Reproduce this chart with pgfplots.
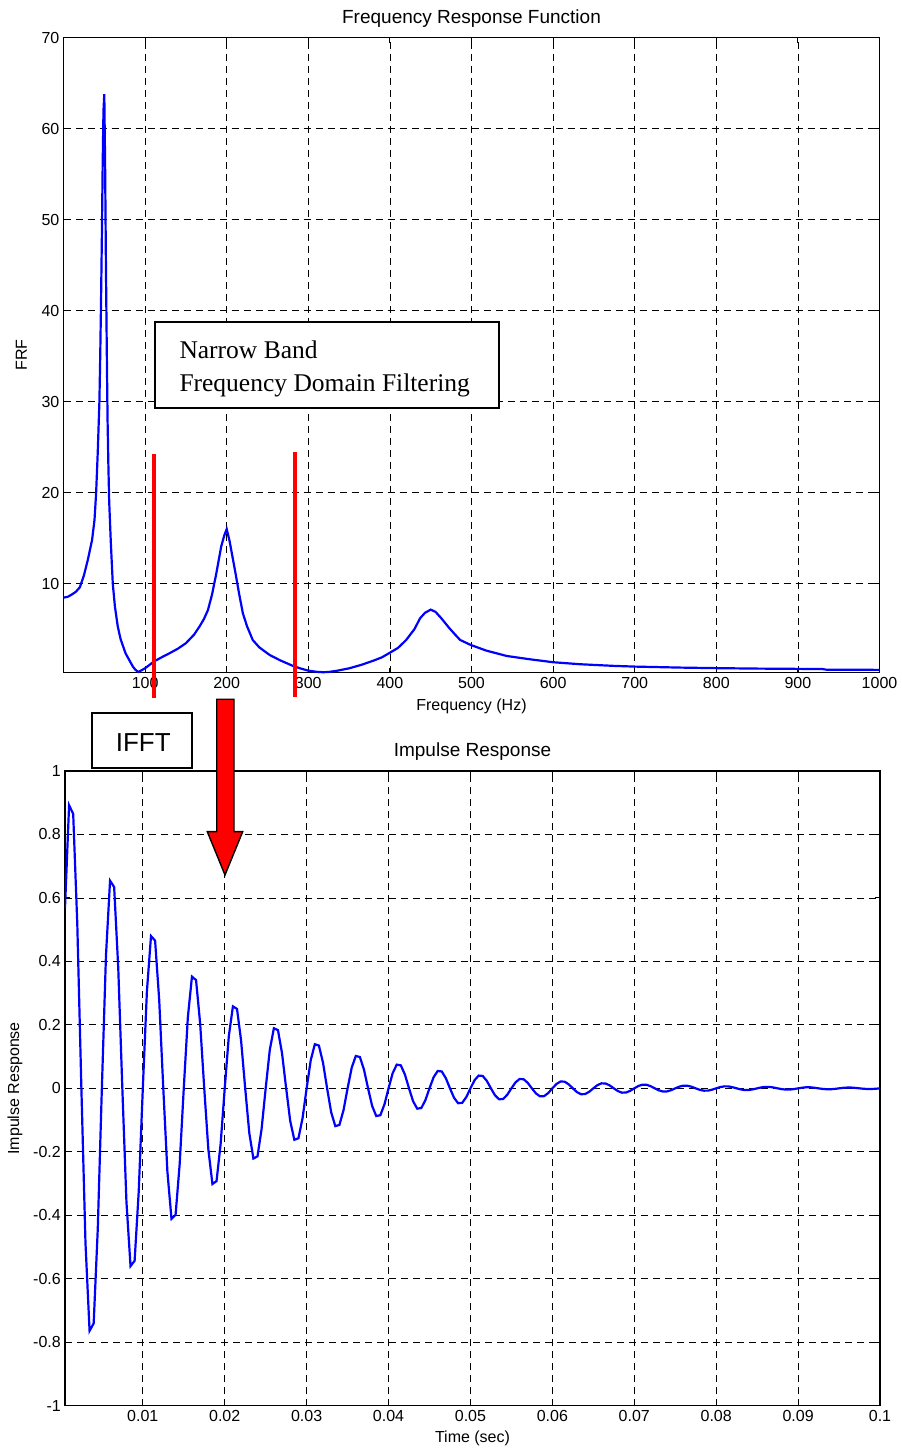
\documentclass[border=0pt]{standalone}
\usepackage{pgfplots}
\pgfplotsset{compat=1.18}
\usepackage{fontspec}
\setmainfont{Liberation Sans}
\newfontfamily\timesfont{Liberation Serif}
\definecolor{mblue}{RGB}{0,0,255}
\definecolor{mred}{RGB}{255,0,0}
\pgfplotsset{
  every axis title shift=0pt,
  mstyle/.style={
    scale only axis,
    axis line style={black, line width=1.5pt},
    grid=major,
    major grid style={black, line width=0.8pt, dash pattern=on 7pt off 5pt},
    tick align=inside,
    xtick pos=both, ytick pos=both,
    major tick length=5pt,
    every tick/.style={black, line width=0.9pt},
    tick label style={font=\fontsize{16}{19}\selectfont},
    xticklabel style={inner sep=4.5pt},
    yticklabel style={inner sep=4pt},
    label style={font=\fontsize{16}{19}\selectfont},
    title style={font=\fontsize{19}{22}\selectfont},
  }
}
\begin{document}
\begin{tikzpicture}[x=1pt,y=1pt]
\path[use as bounding box] (0,0) rectangle (902,1449);
% ---------------- Top: FRF ----------------
\begin{axis}[mstyle,
  at={(63.5pt,776.3pt)}, anchor=south west,
  width=816pt, height=635pt,
  xmin=0, xmax=1000, ymin=0.22, ymax=70,
  clip=false,
  xtick={100,200,300,400,500,600,700,800,900,1000},
  xticklabels={100,200,300,400,500,600,700,800,900,1000},
  ytick={10,20,30,40,50,60,70},
  yticklabels={10,20,30,40,50,60,70},
  title={Frequency Response Function},
  title style={at={(axis description cs:0.5,1.030)}, anchor=center},
  xlabel={Frequency (Hz)},
  xlabel style={at={(axis description cs:0.5,-0.053)}, anchor=center},
  ylabel={FRF},
  ylabel style={at={(axis description cs:-0.0515,0.5)}, anchor=center},
]
\addplot[mblue, line width=2.2pt] coordinates {
(0,8.47)(5,8.55)(10,8.8)(15,9.1)(20,9.6)(25,10.9)(30,12.7)(35,14.8)(38,17.0)(40,20.0)
(42,24.5)(44,30.0)(45,35)(46,41)(47,48)(48,56)(49,62)(50,63.8)(51,56)(52,45)
(53,36)(54,28)(55,23)(56,19)(58,14.5)(60.4,10.0)(63,7.5)(66.5,5.3)(70,3.9)(76,2.36)
(80,1.7)(85,0.9)(88,0.55)(91.5,0.3)(95,0.45)(100,0.71)(105,1.05)(110.7,1.44)(120,1.9)(130,2.36)
(140,2.85)(150,3.46)(160,4.4)(166.7,5.3)(172,6.1)(177,7.1)(182,8.8)(187.2,11.1)(193.3,14.1)(197,15.3)
(200,16.0)(203.5,14.7)(207,13.0)(210.9,11.1)(215,9.0)(219.8,6.75)(225,5.3)(232,3.8)(240,3.0)(252.6,2.17)
(265,1.6)(281,0.97)(290,0.7)(299.6,0.45)(310,0.32)(318,0.27)(325,0.3)(334.4,0.42)(350,0.7)(365,1.08)
(380,1.55)(390,1.9)(399,2.36)(410,2.95)(420,3.82)(430,5.0)(437,6.2)(443,6.8)(450,7.15)(456,6.9)
(463,6.2)(473,5.1)(480,4.4)(486,3.82)(499,3.27)(518,2.65)(543,2.06)(571,1.70)(600,1.37)(633,1.15)
(674,0.97)(700,0.89)(756,0.78)(800,0.72)(850,0.67)(900,0.64)(930,0.62)(935,0.55)(1000,0.53)
};
\addplot[mred, line width=4pt] coordinates {(111.5,24.2)(111.5,-2.6)};
\addplot[mred, line width=4pt] coordinates {(283.2,24.5)(283.2,-2.4)};
\end{axis}
% ---------------- Bottom: Impulse response ----------------
\begin{axis}[mstyle,
  at={(65pt,43.3pt)}, anchor=south west,
  width=815pt, height=634.7pt,
  xmin=0.0005, xmax=0.1, ymin=-1, ymax=1,
  xtick={0.01,0.02,0.03,0.04,0.05,0.06,0.07,0.08,0.09,0.1},
  xticklabels={0.01,0.02,0.03,0.04,0.05,0.06,0.07,0.08,0.09,0.1},
  ytick={-1,-0.8,-0.6,-0.4,-0.2,0,0.2,0.4,0.6,0.8,1},
  yticklabels={-1,-0.8,-0.6,-0.4,-0.2,0,0.2,0.4,0.6,0.8,1},
  scaled x ticks=false,
  title={Impulse Response},
  title style={at={(axis description cs:0.5,1.030)}, anchor=center},
  xlabel={Time (sec)},
  xlabel style={at={(axis description cs:0.5,-0.051)}, anchor=center},
  ylabel={Impulse Response},
  ylabel style={at={(axis description cs:-0.0613,0.5)}, anchor=center},
]
\addplot[mblue, line width=2.2pt] coordinates {
(0.0005,0.5688)(0.001,0.8921)(0.0015,0.8649)(0.002,0.5183)(0.0025,0)(0.003,-0.4870)(0.0035,-0.7641)(0.004,-0.7407)(0.0045,-0.4438)(0.005,0)
(0.0055,0.4172)(0.006,0.6543)(0.0065,0.6344)(0.007,0.3801)(0.0075,0)(0.008,-0.3572)(0.0085,-0.5604)(0.009,-0.5433)(0.0095,-0.3255)(0.01,0)
(0.0105,0.3060)(0.011,0.4799)(0.0115,0.4653)(0.012,0.2788)(0.0125,0)(0.013,-0.2620)(0.0135,-0.4110)(0.014,-0.3985)(0.0145,-0.2388)(0.015,0)
(0.0155,0.2244)(0.016,0.3520)(0.0165,0.3413)(0.017,0.2045)(0.0175,0)(0.018,-0.1922)(0.0185,-0.3015)(0.019,-0.2923)(0.0195,-0.1751)(0.02,0)
(0.0205,0.1646)(0.021,0.2582)(0.0215,0.2503)(0.022,0.1500)(0.0225,0)(0.023,-0.1409)(0.0235,-0.2211)(0.024,-0.2143)(0.0245,-0.1284)(0.025,0)
(0.0255,0.1207)(0.026,0.1893)(0.0265,0.1835)(0.027,0.1100)(0.0275,0)(0.028,-0.1034)(0.0285,-0.1622)(0.029,-0.1572)(0.0295,-0.0942)(0.03,0)
(0.0305,0.0886)(0.031,0.1389)(0.0315,0.1347)(0.032,0.0807)(0.0325,0)(0.033,-0.0758)(0.0335,-0.1190)(0.034,-0.1153)(0.0345,-0.0691)(0.035,0)
(0.0355,0.0650)(0.036,0.1019)(0.0365,0.0988)(0.037,0.0592)(0.0375,0)(0.038,-0.0556)(0.0385,-0.0873)(0.039,-0.0846)(0.0395,-0.0507)(0.04,0)
(0.0405,0.0476)(0.041,0.0747)(0.0415,0.0724)(0.042,0.0434)(0.0425,0)(0.043,-0.0408)(0.0435,-0.0640)(0.044,-0.0620)(0.0445,-0.0372)(0.045,0)
(0.0455,0.0349)(0.046,0.0548)(0.0465,0.0531)(0.047,0.0318)(0.0475,0)(0.048,-0.0299)(0.0485,-0.0469)(0.049,-0.0455)(0.0495,-0.0273)(0.05,0)
(0.0505,0.0256)(0.051,0.0402)(0.0515,0.0390)(0.052,0.0234)(0.0525,0)(0.053,-0.0220)(0.0535,-0.0345)(0.054,-0.0334)(0.0545,-0.0200)(0.055,0)
(0.0555,0.0188)(0.056,0.0295)(0.0565,0.0286)(0.057,0.0171)(0.0575,0)(0.058,-0.0161)(0.0585,-0.0253)(0.059,-0.0245)(0.0595,-0.0147)(0.06,0)
(0.0605,0.0138)(0.061,0.0216)(0.0615,0.0210)(0.062,0.0126)(0.0625,0)(0.063,-0.0118)(0.0635,-0.0185)(0.064,-0.0180)(0.0645,-0.0108)(0.065,0)
(0.0655,0.0101)(0.066,0.0158)(0.0665,0.0153)(0.067,0.0092)(0.0675,0)(0.068,-0.0086)(0.0685,-0.0136)(0.069,-0.0131)(0.0695,-0.0079)(0.07,0)
(0.0705,0.0074)(0.071,0.0116)(0.0715,0.0113)(0.072,0.0068)(0.0725,0)(0.073,-0.0063)(0.0735,-0.0100)(0.074,-0.0096)(0.0745,-0.0058)(0.075,0)
(0.0755,0.0054)(0.076,0.0085)(0.0765,0.0083)(0.077,0.0050)(0.0775,0)(0.078,-0.0047)(0.0785,-0.0073)(0.079,-0.0071)(0.0795,-0.0042)(0.08,0)
(0.0805,0.0040)(0.081,0.0063)(0.0815,0.0061)(0.082,0.0036)(0.0825,0)(0.083,-0.0034)(0.0835,-0.0054)(0.084,-0.0052)(0.0845,-0.0031)(0.085,0)
(0.0855,0.0029)(0.086,0.0046)(0.0865,0.0045)(0.087,0.0027)(0.0875,0)(0.088,-0.0025)(0.0885,-0.0039)(0.089,-0.0038)(0.0895,-0.0023)(0.09,0)
(0.0905,0.0021)(0.091,0.0034)(0.0915,0.0033)(0.092,0.0020)(0.0925,0)(0.093,-0.0018)(0.0935,-0.0029)(0.094,-0.0028)(0.0945,-0.0017)(0.095,0)
(0.0955,0.0016)(0.096,0.0025)(0.0965,0.0024)(0.097,0.0014)(0.0975,0)(0.098,-0.0013)(0.0985,-0.0021)(0.099,-0.0020)(0.0995,-0.0012)(0.1,0)
};
\end{axis}
% ---------------- Annotations ----------------
\draw[black, line width=1.8pt, fill=white] (155,1041.3) rectangle (499.3,1127.3);
\node[anchor=base west, inner sep=0pt, font=\timesfont\fontsize{25.5}{28}\selectfont] at (179.3,1090.7) {Narrow Band};
\node[anchor=base west, inner sep=0pt, font=\timesfont\fontsize{25.5}{28}\selectfont] at (179.3,1057.3) {Frequency Domain Filtering};
\draw[black, line width=1.8pt, fill=white] (91.7,681.3) rectangle (191.7,736.3);
\node[anchor=base, inner sep=0pt, font=\fontsize{26}{30}\selectfont] at (143.3,697.3) {IFFT};
\draw[black, line width=1.4pt, fill=mred, line join=miter]
  (216.7,749.7) -- (234,749.7) -- (234,617.3) -- (242.7,617.3) -- (225,574) -- (207.3,617.3) -- (216.7,617.3) -- cycle;
\end{tikzpicture}
\end{document}
